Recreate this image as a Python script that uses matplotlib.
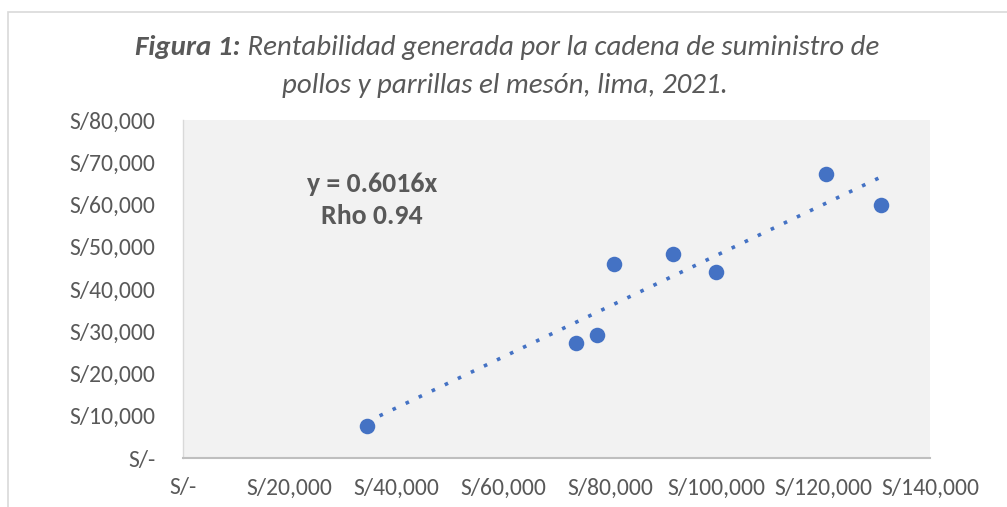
import numpy as np
import matplotlib
matplotlib.use("Agg")
import matplotlib.pyplot as plt
from matplotlib.patches import Rectangle
from matplotlib.ticker import FuncFormatter

plt.rcParams['font.family'] = ['Carlito', 'DejaVu Sans']

# costs (x) vs profit (y), soles
costo = [34400, 73600, 77600, 80800, 91800, 99900, 120600, 130900]
rentabilidad = [7600, 27300, 29100, 45900, 48400, 44100, 67200, 59800]

pendiente = 0.6016
rho = 0.94

titulo_a = "Figura 1:"
titulo_b = " Rentabilidad generada por la cadena de suministro de"
titulo_c = "pollos y parrillas el mesón, lima, 2021."

GRIS = "#595959"
AZUL = "#4472C4"

fig = plt.figure(figsize=(10.07, 5.07), dpi=100)
fig.patch.set_facecolor("white")

# outer chart border
fig.patches.append(Rectangle((8 / 1007, -0.02), 1.02, 1 - 12 / 507 + 0.02,
                             transform=fig.transFigure, fill=False,
                             edgecolor="#D9D9D9", lw=1.2))

ax = fig.add_axes([183 / 1007, 1 - 458 / 507, 747 / 1007, 338 / 507])
ax.set_facecolor("#F2F2F2")

ax.scatter(costo, rentabilidad, s=125, color=AZUL, zorder=3, linewidths=0)

# trend line with the stated slope, intercept fitted by least squares
x = np.array(costo, dtype=float)
y = np.array(rentabilidad, dtype=float)
intercepto = y.mean() - pendiente * x.mean()
xt = np.array([x.min(), x.max()])
ax.plot(xt, pendiente * xt + intercepto, color=AZUL, lw=2.6,
        dashes=(1.0, 3.0), zorder=2)

ax.set_xlim(0, 140000)
ax.set_ylim(0, 80000)
ax.set_xticks(np.arange(0, 140001, 20000))
ax.set_yticks(np.arange(0, 80001, 10000))


def soles(v, pos):
    return "S/-" if v == 0 else "S/{:,.0f}".format(v)


ax.xaxis.set_major_formatter(FuncFormatter(soles))
ax.yaxis.set_major_formatter(FuncFormatter(soles))
ax.tick_params(axis="both", length=0, labelsize=17, colors=GRIS)
ax.tick_params(axis="x", pad=14)
ax.tick_params(axis="y", pad=20)

for s in ["top", "right"]:
    ax.spines[s].set_visible(False)
ax.spines["bottom"].set_color("#BFBFBF")
ax.spines["bottom"].set_linewidth(1.5)
ax.spines["left"].set_color("#D9D9D9")
ax.spines["left"].set_linewidth(1.0)

ax.text(0.253, 0.811, "y = {:.4f}x".format(pendiente), transform=ax.transAxes,
        ha="center", va="center", fontsize=20, fontweight="bold", color=GRIS)
ax.text(0.253, 0.716, "Rho {:.2f}".format(rho), transform=ax.transAxes,
        ha="center", va="center", fontsize=20, fontweight="bold", color=GRIS)

# title: bold lead-in followed by italic text, centered as one line
t1 = fig.text(0, 1 - 47 / 507, titulo_a, fontsize=20.8, fontweight="bold",
              fontstyle="italic", color=GRIS, va="center", ha="left")
t2 = fig.text(0, 1 - 47 / 507, titulo_b, fontsize=20.8, fontstyle="italic",
              color=GRIS, va="center", ha="left")
fig.canvas.draw()
r = fig.canvas.get_renderer()
w1 = t1.get_window_extent(r).width
w2 = t2.get_window_extent(r).width
x0 = 507 - (w1 + w2) / 2
t1.set_x(x0 / 1007)
t2.set_x((x0 + w1) / 1007)
fig.text(505 / 1007, 1 - 86 / 507, titulo_c, fontsize=20.8, fontstyle="italic",
         color=GRIS, va="center", ha="center")

fig.savefig("out.png", dpi=100)
